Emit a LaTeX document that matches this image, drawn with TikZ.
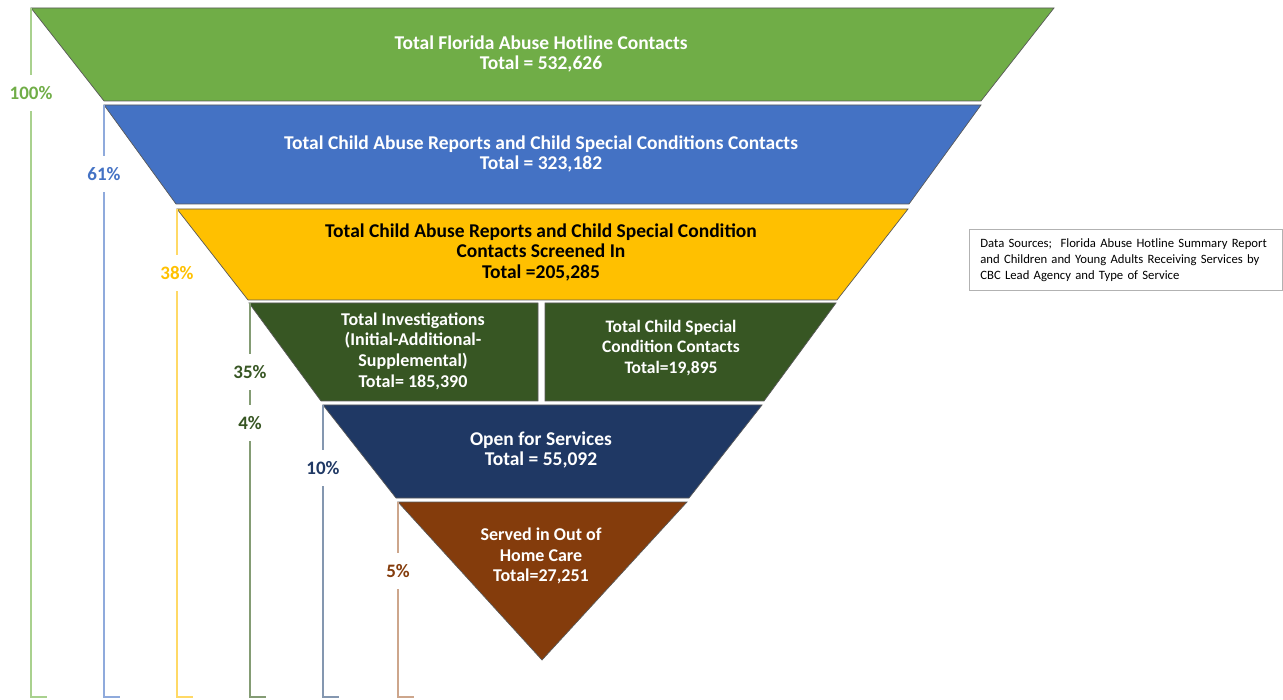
\documentclass[tikz,border=0pt]{standalone}
\usepackage{fontspec}
\setmainfont{Carlito}
\definecolor{hotgreen}{HTML}{70AD47}
\definecolor{repblue}{HTML}{4472C4}
\definecolor{scrgold}{HTML}{FFC000}
\definecolor{invgreen}{HTML}{375623}
\definecolor{opennavy}{HTML}{1F3864}
\definecolor{ohcbrown}{HTML}{843C0C}
\definecolor{hotline}{HTML}{A9D18E}
\definecolor{repline}{HTML}{8FAADC}
\definecolor{scrline}{HTML}{FFD966}
\definecolor{invline}{HTML}{849C74}
\definecolor{openline}{HTML}{8497B0}
\definecolor{ohcline}{HTML}{CDA68C}

\begin{document}
\begin{tikzpicture} [x=1pt,y=-1pt,
  band/.style= {draw=black!65,line width=0.7pt},
  txt/.style= {align=center,inner sep=0,text=white,font=\bfseries\fontsize{19.5}{20.5}\selectfont},
  pct/.style= {inner sep=0,minimum height=36pt,font=\bfseries\fontsize{19}{19}\selectfont},
  bar/.style= {line width=1.6pt}]
  \useasboundingbox (0,0) rectangle (1283,700);
  % Bands
  {\draw[band,fill=hotgreen] (31,8) -- (1054,8) -- (981,101) -- (104,101) -- cycle;}
  {\draw[band,fill=repblue] (104,105) -- (981,105) -- (909,204) -- (176,204) -- cycle;}
  {\draw[band,fill=scrgold] (177,209) -- (908,209) -- (837,300) -- (248,300) -- cycle;}
  {\draw[band,fill=invgreen] (249,303) -- (538,303) -- (538,401) -- (321,401) -- cycle;}
  {\draw[band,fill=invgreen] (545,303) -- (836,303) -- (764,401) -- (545,401) -- cycle;}
  {\draw[band,fill=opennavy] (323,405) -- (762,405) -- (689,498) -- (396,498) -- cycle;}
  {\draw[band,fill=ohcbrown] (398,502) -- (687,502) -- (542,660) -- cycle;}
  % Band texts
  {\node[txt] (hotline) at (541,54) {Total Florida Abuse Hotline Contacts\\Total = 532,626};}
  {\node[txt] (reports) at (541,154) {Total Child Abuse Reports and Child Special Conditions Contacts\\Total = 323,182};}
  {\node[txt,text=black] (screened) at (541,252) {Total Child Abuse Reports and Child Special Condition\\Contacts Screened In\\Total =205,285};}
  {\node[txt,font=\bfseries\fontsize{18}{20.7}\selectfont] (invest) at (413,351) {Total Investigations\\(Initial-Additional-\\Supplemental)\\Total= 185,390};}
  {\node[txt,font=\bfseries\fontsize{17.5}{20.7}\selectfont] (special) at (671,348) {Total Child Special\\Condition Contacts\\Total=19,895};}
  {\node[txt] (open) at (541,450) {Open for Services\\Total = 55,092};}
  {\node[txt,font=\bfseries\fontsize{18}{20.7}\selectfont] (ohc) at (541,556) {Served in Out of\\Home Care\\Total=27,251};}
  % Sources
  {\node[draw=black!30,line width=0.8pt,anchor=north west,minimum width=313pt,minimum height=61pt,inner xsep=11pt,
    align=left,text width=291pt,font=\fontsize{12.7}{16}\selectfont] (sources) at (969,229)
    {Data Sources;\ \ Florida Abuse Hotline Summary Report\\and Children and Young Adults Receiving Services by\\CBC Lead Agency and Type of Service};}
  % Brackets
  \coordinate (t100) at (31,8);
  \coordinate (t61) at (104,105);
  \coordinate (t38) at (177,209);
  \coordinate (t35) at (250,303);
  \coordinate (t10) at (323,405);
  \coordinate (t5) at (398,502);
  \coordinate (b100) at (31,697);
  \coordinate (b61) at (104,697);
  \coordinate (b38) at (177,697);
  \coordinate (b35) at (250,697);
  \coordinate (b10) at (323,697);
  \coordinate (b5) at (398,697);
  {\node[pct,text=hotgreen] (p100) at (31,93) {100\%};}
  {\node[pct,text=repblue] (p61) at (104,174) {61\%};}
  {\node[pct,text=scrgold] (p38) at (177,273) {38\%};}
  {\node[pct,text=invgreen] (p35) at (250,372) {35\%};}
  {\node[pct,text=invgreen] (p4) at (250,423) {4\%};}
  {\node[pct,text=opennavy] (p10) at (323,468) {10\%};}
  {\node[pct,text=ohcbrown] (p5) at (398,571) {5\%};}
  \draw[bar,hotline] (t100) -- (p100.north) (p100.south) -- (b100) -- ++(16,0);
  \draw[bar,repline] (t61) -- (p61.north) (p61.south) -- (b61) -- ++(16,0);
  \draw[bar,scrline] (t38) -- (p38.north) (p38.south) -- (b38) -- ++(16,0);
  \draw[bar,invline] (t35) -- (p35.north) (p35.south) -- (p4.north) (p4.south) -- (b35) -- ++(16,0);
  \draw[bar,openline] (t10) -- (p10.north) (p10.south) -- (b10) -- ++(16,0);
  \draw[bar,ohcline] (t5) -- (p5.north) (p5.south) -- (b5) -- ++(16,0);
\end{tikzpicture}
\end{document}
